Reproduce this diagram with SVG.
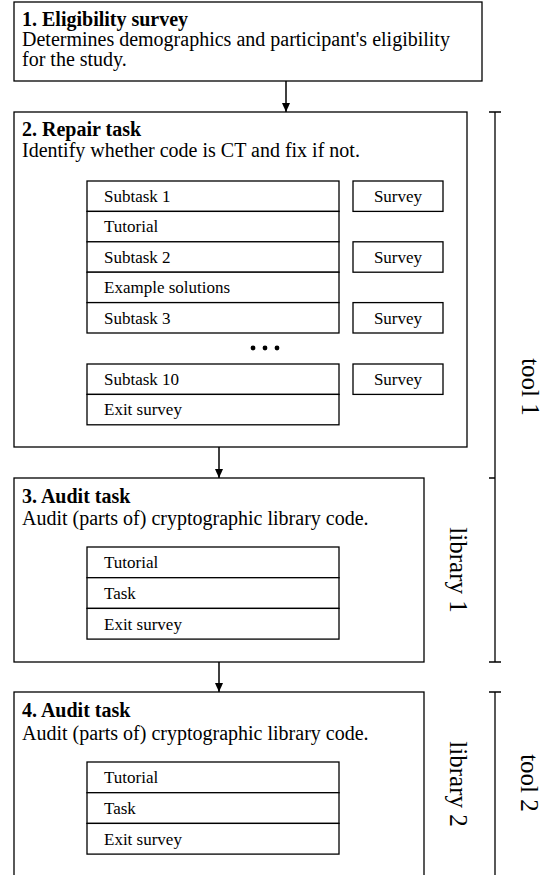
<svg xmlns="http://www.w3.org/2000/svg" width="555" height="875" viewBox="0 0 555 875">
<style>
.box{fill:#fff;stroke:#000;stroke-width:1.3}
.row{fill:#fff;stroke:#000;stroke-width:1.3}
.t{font-family:"Liberation Serif","Times New Roman",serif;fill:#000}
.title{font-size:20px;font-weight:bold}
.body{font-size:20px}
.in{font-size:17px}
.side{font-size:25px}
.br{stroke:#000;stroke-width:1.3;fill:none}
.conn{stroke:#000;stroke-width:1.5;fill:none}
</style>
<defs>
<marker id="ah" markerWidth="10" markerHeight="10" refX="9" refY="5" orient="auto" markerUnits="userSpaceOnUse">
<path d="M0,1 L9,5 L0,9 Z" fill="#000"/>
</marker>
</defs>
<rect width="555" height="875" fill="#fff"/>

<g id="n1">
<rect class="box" x="14" y="2" width="468" height="79"/>
<text class="t title" x="22" y="26">1. Eligibility survey</text>
<text class="t body" x="22" y="46">Determines demographics and participant's eligibility</text>
<text class="t body" x="22" y="66">for the study.</text>
</g>

<g id="n2">
<rect class="box" x="14" y="112" width="453" height="335"/>
<text class="t title" x="22" y="136">2. Repair task</text>
<text class="t body" x="22" y="157">Identify whether code is CT and fix if not.</text>
<g id="n2-rows">
<rect class="row" x="87" y="181" width="252" height="30.4"/>
<rect class="row" x="87" y="211.4" width="252" height="30.4"/>
<rect class="row" x="87" y="241.8" width="252" height="30.4"/>
<rect class="row" x="87" y="272.2" width="252" height="30.4"/>
<rect class="row" x="87" y="302.6" width="252" height="30.4"/>
<rect class="row" x="87" y="364" width="252" height="30.4"/>
<rect class="row" x="87" y="394.4" width="252" height="30.4"/>
<text class="t in" x="104" y="202">Subtask 1</text>
<text class="t in" x="104" y="232">Tutorial</text>
<text class="t in" x="104" y="263">Subtask 2</text>
<text class="t in" x="104" y="293">Example solutions</text>
<text class="t in" x="104" y="324">Subtask 3</text>
<text class="t in" x="104" y="385">Subtask 10</text>
<text class="t in" x="104" y="415">Exit survey</text>
<circle cx="253" cy="348" r="2.4"/>
<circle cx="265" cy="348" r="2.4"/>
<circle cx="277" cy="348" r="2.4"/>
</g>
<g id="n2-surveys">
<rect class="row" x="353" y="181" width="90" height="30.4"/>
<rect class="row" x="353" y="241.8" width="90" height="30.4"/>
<rect class="row" x="353" y="302.6" width="90" height="30.4"/>
<rect class="row" x="353" y="364" width="90" height="30.4"/>
<text class="t in" x="398" y="202" text-anchor="middle">Survey</text>
<text class="t in" x="398" y="263" text-anchor="middle">Survey</text>
<text class="t in" x="398" y="324" text-anchor="middle">Survey</text>
<text class="t in" x="398" y="385" text-anchor="middle">Survey</text>
</g>
</g>

<g id="n3">
<rect class="box" x="14" y="478" width="410" height="184"/>
<text class="t title" x="22" y="503">3. Audit task</text>
<text class="t body" x="22" y="525">Audit (parts of) cryptographic library code.</text>
<rect class="row" x="87" y="547" width="252" height="30.7"/>
<rect class="row" x="87" y="577.7" width="252" height="30.7"/>
<rect class="row" x="87" y="608.4" width="252" height="30.7"/>
<text class="t in" x="104" y="568">Tutorial</text>
<text class="t in" x="104" y="599">Task</text>
<text class="t in" x="104" y="630">Exit survey</text>
</g>

<g id="n4">
<rect class="box" x="14" y="692" width="410" height="200"/>
<text class="t title" x="22" y="717">4. Audit task</text>
<text class="t body" x="22" y="740">Audit (parts of) cryptographic library code.</text>
<rect class="row" x="87" y="762" width="252" height="30.7"/>
<rect class="row" x="87" y="792.7" width="252" height="30.7"/>
<rect class="row" x="87" y="823.4" width="252" height="30.7"/>
<text class="t in" x="104" y="783">Tutorial</text>
<text class="t in" x="104" y="814">Task</text>
<text class="t in" x="104" y="845">Exit survey</text>
</g>

<g id="connectors">
<line class="conn" x1="286" y1="81" x2="286" y2="112" marker-end="url(#ah)"/>
<line class="conn" x1="219" y1="447" x2="219" y2="478" marker-end="url(#ah)"/>
<line class="conn" x1="219" y1="662" x2="219" y2="692" marker-end="url(#ah)"/>
</g>

<g id="brackets">
<path class="br" d="M495,112 V662 M489,112 H501 M489,478 H495 M489,662 H501"/>
<path class="br" d="M495,692 V880 M489,692 H501"/>
<text class="t side" transform="translate(522,387) rotate(90)" text-anchor="middle">tool 1</text>
<text class="t side" transform="translate(450,570) rotate(90)" text-anchor="middle">library 1</text>
<text class="t side" transform="translate(450,784) rotate(90)" text-anchor="middle">library 2</text>
<text class="t side" transform="translate(521,783) rotate(90)" text-anchor="middle">tool 2</text>
</g>
</svg>
